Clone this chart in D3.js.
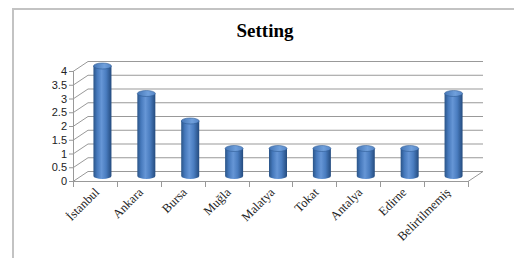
<!DOCTYPE html>
<html>
<head>
<meta charset="utf-8">
<script src="https://cdn.jsdelivr.net/npm/d3@7"></script>
<style>
  body { margin: 0; background: #fff; }
  svg { display: block; }
</style>
</head>
<body>
<svg id="chart" width="514" height="258"></svg>
<script>
const cities = ["İstanbul", "Ankara", "Bursa", "Muğla", "Malatya", "Tokat", "Antalya", "Edirne", "Belirtilmemiş"];
const counts = [4, 3, 2, 1, 1, 1, 1, 1, 3];
const yTicks = [0, 0.5, 1, 1.5, 2, 2.5, 3, 3.5, 4];

const svg = d3.select("#chart");
const depthX = 15, depthY = -10;

// frame
svg.append("path")
  .attr("d", "M13,258 L13,9 L514,9")
  .attr("fill", "none")
  .attr("stroke", "#c3c3c3")
  .attr("stroke-width", 2);

svg.append("text")
  .attr("x", 265)
  .attr("y", 37)
  .attr("text-anchor", "middle")
  .attr("font-family", "Liberation Serif, Times New Roman, serif")
  .attr("font-weight", "bold")
  .attr("font-size", 19)
  .text("Setting");

const x = d3.scaleBand().domain(cities).range([73, 468]);
const y = d3.scaleLinear().domain([0, 4]).range([181, 71]);

const defs = svg.append("defs");
const grad = defs.append("linearGradient").attr("id", "cyl").attr("x1", 0).attr("x2", 1).attr("y1", 0).attr("y2", 0);
[["0%", "#2a5487"], ["20%", "#4578bb"], ["45%", "#6696d6"], ["70%", "#4a7dc0"], ["100%", "#244b7e"]]
  .forEach(([o, c]) => grad.append("stop").attr("offset", o).attr("stop-color", c));
const topGrad = defs.append("linearGradient").attr("id", "cyltop").attr("x1", 0).attr("x2", 1).attr("y1", 0).attr("y2", 0);
[["0%", "#4576b6"], ["60%", "#70a0dc"], ["100%", "#5585c6"]]
  .forEach(([o, c]) => topGrad.append("stop").attr("offset", o).attr("stop-color", c));

const grid = svg.append("g").attr("stroke", "#999").attr("stroke-width", 1).attr("fill", "none");

// back gridlines + left side diagonals
grid.selectAll(".back")
  .data(yTicks)
  .enter()
  .append("line")
  .attr("x1", 73 + depthX)
  .attr("x2", 468 + depthX)
  .attr("y1", (d) => y(d) + depthY + 0.5)
  .attr("y2", (d) => y(d) + depthY + 0.5);
grid.selectAll(".side")
  .data(yTicks)
  .enter()
  .append("line")
  .attr("x1", 73)
  .attr("x2", 73 + depthX)
  .attr("y1", (d) => y(d) + 0.5)
  .attr("y2", (d) => y(d) + depthY + 0.5);

// floor front edge and right diagonal
grid.append("line").attr("x1", 73).attr("x2", 468).attr("y1", y(0) + 0.5).attr("y2", y(0) + 0.5);
grid.append("line").attr("x1", 468).attr("x2", 468 + depthX).attr("y1", y(0) + 0.5).attr("y2", y(0) + depthY + 0.5);

// front y axis
grid.append("line").attr("x1", 73.5).attr("x2", 73.5).attr("y1", y(4)).attr("y2", y(0));
grid.selectAll(".ytick")
  .data(yTicks)
  .enter()
  .append("line")
  .attr("x1", 69)
  .attr("x2", 73)
  .attr("y1", (d) => y(d) + 0.5)
  .attr("y2", (d) => y(d) + 0.5);

// category ticks
const bounds = cities.map((c) => x(c)).concat([468]);
grid.selectAll(".xtick")
  .data(bounds)
  .enter()
  .append("line")
  .attr("x1", (d) => Math.round(d) + 0.5)
  .attr("x2", (d) => Math.round(d) + 0.5)
  .attr("y1", y(0))
  .attr("y2", y(0) + 6);

// y labels
svg.selectAll(".ylab")
  .data(yTicks)
  .enter()
  .append("text")
  .attr("x", 67)
  .attr("y", (d) => y(d) + 4)
  .attr("text-anchor", "end")
  .attr("font-family", "Liberation Sans, Arial, sans-serif")
  .attr("font-size", 11)
  .attr("fill", "#222")
  .text((d) => d);

// cylinders
const rx = 9, ry = 3;
const bars = svg.selectAll(".bar")
  .data(cities)
  .enter()
  .append("g")
  .attr("transform", (d) => `translate(${x(d) + x.bandwidth() / 2 + depthX / 2},${depthY / 2})`);

bars.append("path")
  .attr("d", (d, i) => {
    const top = y(counts[i]), bot = y(0);
    return `M${-rx},${top} L${-rx},${bot} A${rx},${ry} 0 0 0 ${rx},${bot} L${rx},${top} Z`;
  })
  .attr("fill", "url(#cyl)");
bars.append("ellipse")
  .attr("cx", 0)
  .attr("cy", (d, i) => y(counts[i]))
  .attr("rx", rx)
  .attr("ry", ry)
  .attr("fill", "url(#cyltop)")
  .attr("stroke", "#2d5a94")
  .attr("stroke-width", 0.6);

// x labels
svg.selectAll(".xlab")
  .data(cities)
  .enter()
  .append("text")
  .attr("transform", (d) => `translate(${x(d) + x.bandwidth() / 2 + 5},${193}) rotate(-45)`)
  .attr("text-anchor", "end")
  .attr("font-family", "Liberation Serif, Times New Roman, serif")
  .attr("font-size", 12.5)
  .attr("fill", "#222")
  .text((d) => d);
</script>
</body>
</html>
